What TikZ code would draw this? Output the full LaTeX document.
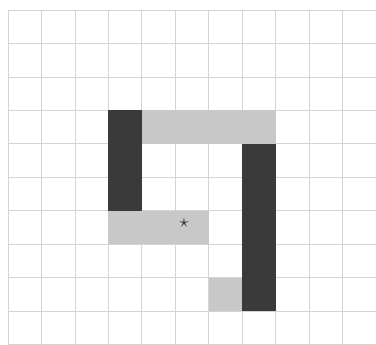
\documentclass[tikz,border=0pt]{standalone}
\usepackage{xcolor}
\usepackage{tikz}
\usetikzlibrary{positioning}
\definecolor{wallgray}{RGB}{58,58,58}
\definecolor{pathgray}{RGB}{200,200,200}
\definecolor{linegray}{RGB}{212,212,212}

\begin{document}
\begin{tikzpicture}[x=1cm,y=1cm,
    wall/.style={fill=wallgray,draw=none},
    trail/.style={fill=pathgray,draw=none}]
\useasboundingbox (-0.24,0) rectangle (11,10.3);
% Draw the grid
\foreach \i in {0,...,11} {
    \draw[linegray,line width=0.7pt] (\i,0) -- (\i,10);
}
\foreach \j in {0,...,10} {
    \draw[linegray,line width=0.7pt] (0,\j) -- (11,\j);
}
% Light cells
\fill[trail] (4,6) rectangle (8,7);
\fill[trail] (3,3) rectangle (6,4);
\fill[trail] (6,1) rectangle (7,2);
% Dark walls
\fill[wall] (3,4) rectangle (4,7);
\fill[wall] (7,1) rectangle (8,6);
% Mark
\node[text=wallgray,inner sep=0pt,scale=1.6] (goal) at (5.26,3.62) {$\star$};
\end{tikzpicture}
\end{document}
